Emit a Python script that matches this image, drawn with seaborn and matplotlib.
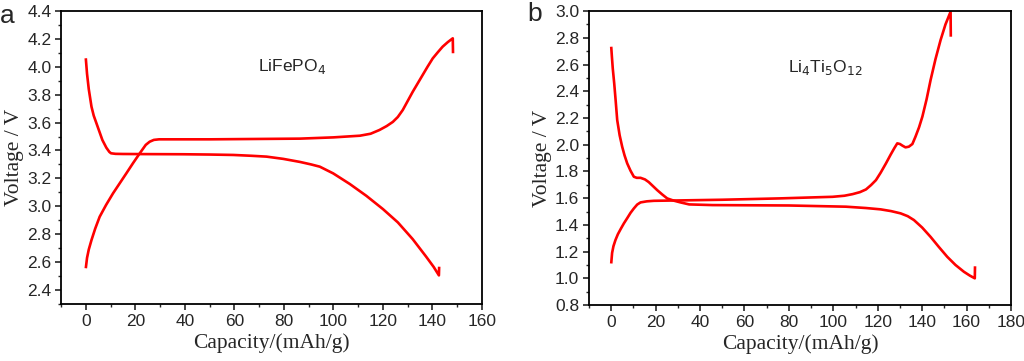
import numpy as np
import pandas as pd
import seaborn as sns
import matplotlib.pyplot as plt
from matplotlib.ticker import MultipleLocator

# LiFePO4 - discharge and charge curves
lfp_dis_cap = [0, 0.5, 1.2, 2.3, 3.2, 4.3, 5.5, 6.7, 8.3, 9.5, 10.2, 12, 15, 25, 39.4, 50, 59.6,
               67, 73, 79.7, 86.5, 91, 94.5, 99.9, 106.6, 113.3, 120, 126, 132, 137.4,
               140.5, 142.6, 142.7]
lfp_dis_v = [4.061, 3.95, 3.84, 3.714, 3.65, 3.595, 3.535, 3.475, 3.42, 3.39, 3.38, 3.376, 3.375,
             3.374, 3.373, 3.371, 3.368, 3.362, 3.356, 3.34, 3.318, 3.30, 3.284, 3.236, 3.16,
             3.075, 2.98, 2.885, 2.765, 2.64, 2.565, 2.505, 2.567]
lfp_chg_cap = [0, 0.5, 1.2, 2.3, 3.8, 5.6, 8.2, 11, 13.7, 16.4, 19.1, 21.8, 24.2, 25.8, 27.5,
               29.6, 50, 86.5, 100, 110.7, 115, 118.6, 121.5, 124, 126, 128, 130, 132, 134,
               136, 138, 140.1, 142.2, 144.1, 146.2, 148.2, 148.3]
lfp_chg_v = [2.556, 2.63, 2.69, 2.758, 2.84, 2.925, 3.01, 3.093, 3.165, 3.237, 3.31, 3.38, 3.44,
             3.463, 3.476, 3.48, 3.48, 3.485, 3.494, 3.506, 3.52, 3.547, 3.575, 3.605, 3.64,
             3.69, 3.755, 3.82, 3.88, 3.94, 4.0, 4.06, 4.105, 4.144, 4.177, 4.204, 4.097]

# Li4Ti5O12 - discharge and charge curves
lto_dis_cap = [0, 0.3, 0.7, 1.35, 2.0, 2.7, 3.8, 4.95, 6.0, 7.2, 8.7, 10.2, 11.5, 13.2, 15.2,
               16.9, 18.8, 20.7, 23, 25.2, 28, 31.2, 35.1, 45.6, 80, 105.7, 114.7, 121.3, 126,
               130.3, 133.5, 136.3, 140, 143.8, 147.5, 151.3, 155, 158.8, 161.5, 163.7, 163.8]
lto_dis_v = [2.733, 2.66, 2.57, 2.459, 2.33, 2.184, 2.07, 1.984, 1.92, 1.86, 1.805, 1.76, 1.752,
             1.752, 1.74, 1.72, 1.69, 1.66, 1.627, 1.598, 1.582, 1.568, 1.553, 1.548, 1.545,
             1.536, 1.526, 1.516, 1.503, 1.486, 1.465, 1.436, 1.38, 1.31, 1.235, 1.161, 1.1,
             1.049, 1.02, 1.0, 1.09]
lto_chg_cap = [0, 0.4, 1.0, 1.9, 3.0, 4.3, 5.7, 7.2, 8.7, 10.2, 11.7, 13.2, 16, 19.2, 31.2, 50,
               75.7, 99.7, 105, 108.7, 112, 114.7, 117, 119.2, 121.3, 123.7, 125.8, 127.5,
               128.8, 130, 131.1, 132.5, 134, 135.6, 137, 138.6, 140.1, 142, 143.8, 146, 148.3,
               150.5, 152.8, 152.9]
lto_chg_v = [1.111, 1.19, 1.24, 1.286, 1.33, 1.37, 1.411, 1.45, 1.49, 1.523, 1.552, 1.568, 1.576,
             1.58, 1.583, 1.588, 1.598, 1.61, 1.618, 1.63, 1.645, 1.665, 1.698, 1.735, 1.79,
             1.86, 1.925, 1.975, 2.01, 2.005, 1.993, 1.98, 1.985, 2.005, 2.06, 2.13, 2.21, 2.34,
             2.484, 2.64, 2.783, 2.9, 2.995, 2.808]

sns.set_style("ticks")
plt.rcParams['font.family'] = ['Liberation Sans', 'DejaVu Sans']

fig = plt.figure(figsize=(10.24, 3.61), dpi=100)
ax1 = fig.add_axes([0.0596, 0.158, 0.4111, 0.8116])
ax2 = fig.add_axes([0.5752, 0.155, 0.4121, 0.8144])

red = '#ff0000'


def draw(ax, caps, volts):
    for c, v in zip(caps, volts):
        df = pd.DataFrame({'cap': c, 'v': v})
        sns.lineplot(data=df, x='cap', y='v', sort=False, color=red, lw=1.9, ax=ax,
                     solid_joinstyle='round', solid_capstyle='butt')


draw(ax1, [lfp_dis_cap, lfp_chg_cap], [lfp_dis_v, lfp_chg_v])
draw(ax2, [lto_dis_cap, lto_chg_cap], [lto_dis_v, lto_chg_v])

ax1.set_xlim(-10, 160)
ax1.set_ylim(2.3, 4.4)
ax1.xaxis.set_major_locator(MultipleLocator(20))
ax1.xaxis.set_minor_locator(MultipleLocator(10))
ax1.set_yticks(np.arange(2.4, 4.41, 0.2))
ax1.yaxis.set_minor_locator(MultipleLocator(0.1))

ax2.set_xlim(-10, 180)
ax2.set_ylim(0.8, 3.0)
ax2.xaxis.set_major_locator(MultipleLocator(20))
ax2.xaxis.set_minor_locator(MultipleLocator(10))
ax2.yaxis.set_major_locator(MultipleLocator(0.2))
ax2.yaxis.set_minor_locator(MultipleLocator(0.1))

for ax in (ax1, ax2):
    ax.xaxis.set_major_formatter(plt.FuncFormatter(lambda v, p: f"{v:.0f}"))
    ax.yaxis.set_major_formatter(plt.FuncFormatter(lambda v, p: f"{v:.1f}"))
    for s in ax.spines.values():
        s.set_visible(True)
        s.set_linewidth(1.3)
        s.set_color('black')
    ax.tick_params(which='major', direction='out', length=4, width=1.2, labelsize=12.5,
                   top=False, right=False, pad=3)
    ax.tick_params(which='minor', direction='out', length=2.5, width=1.0, top=False, right=False)
    ax.set_xlabel('Capacity/(mAh/g)', family='Liberation Serif', fontsize=15.5, labelpad=3)
    ax.set_ylabel('Voltage / V', family='Liberation Serif', fontsize=15.5, labelpad=2)

ax1.text(69.6, 4.0, 'LiFePO$_4$', fontsize=12.5, va='center')
ax2.text(79.4, 2.58, 'Li$_4$Ti$_5$O$_{12}$', fontsize=12.5, va='center')

fig.text(0.0, 0.99, 'a', fontsize=19, va='top', ha='left')
fig.text(0.515, 0.995, 'b', fontsize=19, va='top', ha='left')

fig.savefig('out.png', dpi=100)
